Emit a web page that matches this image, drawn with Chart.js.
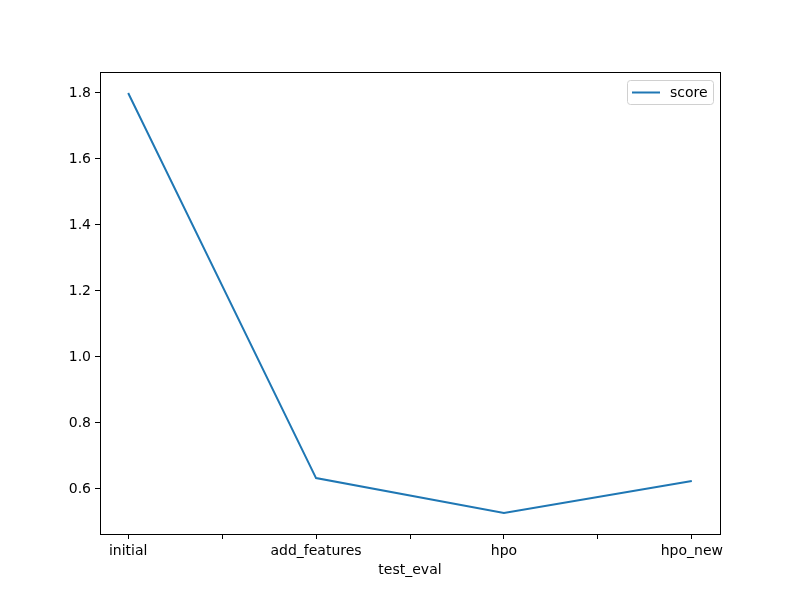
<!DOCTYPE html>
<html>
<head>
<meta charset="utf-8">
<script src="https://cdn.jsdelivr.net/npm/chart.js@4.4.1/dist/chart.umd.min.js"></script>
<style>
  html, body { margin: 0; padding: 0; background: #fff; }
  #wrap { width: 800px; height: 600px; }
</style>
</head>
<body>
<div id="wrap"><canvas id="scoreChart" width="800" height="600"></canvas></div>
<script>
// data
const categories = ["initial", "add_features", "hpo", "hpo_new"];
const scores = [1.80, 0.633, 0.527, 0.624];
const yTicks = [0.6, 0.8, 1.0, 1.2, 1.4, 1.6, 1.8];
const xTicks = [0, 0.5, 1, 1.5, 2, 2.5, 3];

const FONT = "'DejaVu Sans', sans-serif";
const BLUE = "#1f77b4";

// top/right spines
const frame = {
  id: "frame",
  afterDatasetsDraw(chart) {
    const { ctx, chartArea: a } = chart;
    ctx.save();
    ctx.strokeStyle = "#000";
    ctx.lineWidth = 1;
    ctx.strokeRect(Math.round(a.left) + 0.5, Math.round(a.top) + 0.5,
      Math.round(a.right - a.left), Math.round(a.bottom - a.top));
    ctx.restore();
  }
};

// matplotlib-style legend box
const mplLegend = {
  id: "mplLegend",
  afterDraw(chart) {
    const { ctx, chartArea: a } = chart;
    const w = 86, h = 24;
    const x = a.right - 7 - w, y = a.top + 8;
    ctx.save();
    ctx.fillStyle = "rgba(255,255,255,0.8)";
    ctx.strokeStyle = "#d0d0d0";
    ctx.lineWidth = 1;
    ctx.beginPath();
    ctx.roundRect(x + 0.5, y + 0.5, w, h, 3);
    ctx.fill();
    ctx.stroke();
    ctx.strokeStyle = BLUE;
    ctx.lineWidth = 2;
    ctx.beginPath();
    ctx.moveTo(x + 5, y + h / 2 + 0.5);
    ctx.lineTo(x + 33, y + h / 2 + 0.5);
    ctx.stroke();
    ctx.fillStyle = "#000";
    ctx.font = "14px " + FONT;
    ctx.textBaseline = "middle";
    ctx.fillText("score", x + 43, y + h / 2 + 1);
    ctx.restore();
  }
};

new Chart(document.getElementById("scoreChart"), {
  type: "line",
  data: {
    datasets: [{
      label: "score",
      data: scores.map((v, i) => ({ x: i, y: v })),
      borderColor: BLUE,
      borderWidth: 2,
      pointRadius: 0,
      tension: 0,
      fill: false
    }]
  },
  options: {
    responsive: false,
    animation: false,
    layout: { padding: { left: 0, top: 72, right: 80, bottom: 0 } },
    plugins: { legend: { display: false }, tooltip: { enabled: false } },
    scales: {
      x: {
        type: "linear",
        min: -0.15,
        max: 3.15,
        afterBuildTicks: (axis) => { axis.ticks = xTicks.map(v => ({ value: v })); },
        afterFit: (axis) => { axis.height = 66; },
        ticks: {
          autoSkip: false,
          maxRotation: 0,
          color: "#000",
          font: { family: FONT, size: 14 },
          padding: 4,
          callback: (v) => Number.isInteger(v) ? categories[v] : ""
        },
        grid: { drawOnChartArea: false, drawTicks: true, tickLength: 5, color: "#000" },
        border: { color: "#000" },
        title: {
          display: true,
          text: "test_eval",
          color: "#000",
          font: { family: FONT, size: 14 },
          padding: { top: 21, bottom: 21 }
        }
      },
      y: {
        min: 0.4636,
        max: 1.8636,
        afterBuildTicks: (axis) => { axis.ticks = yTicks.map(v => ({ value: v })); },
        afterFit: (axis) => { axis.width = 100; },
        ticks: {
          color: "#000",
          font: { family: FONT, size: 14 },
          padding: 4,
          callback: (v) => v.toFixed(1)
        },
        grid: { drawOnChartArea: false, drawTicks: true, tickLength: 5, color: "#000" },
        border: { color: "#000" }
      }
    }
  },
  plugins: [frame, mplLegend]
});
</script>
</body>
</html>
